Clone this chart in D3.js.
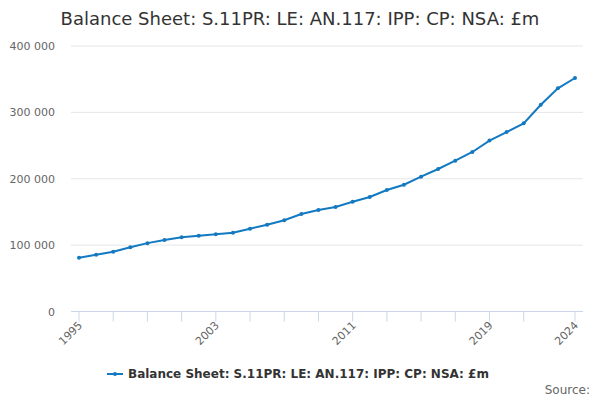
<!DOCTYPE html>
<html>
<head>
<meta charset="utf-8">
<script src="https://cdn.jsdelivr.net/npm/d3@7"></script>
<style>
  body { margin: 0; background: #fff; }
  text { font-family: "DejaVu Sans", sans-serif; }
</style>
</head>
<body>
<div id="chart"></div>
<script>
const title = "Balance Sheet: S.11PR: LE: AN.117: IPP: CP: NSA: £m";
const years = [1995, 1996, 1997, 1998, 1999, 2000, 2001, 2002, 2003, 2004,
  2005, 2006, 2007, 2008, 2009, 2010, 2011, 2012, 2013, 2014,
  2015, 2016, 2017, 2018, 2019, 2020, 2021, 2022, 2023, 2024];
const values = [81000, 85500, 90000, 96700, 103000, 107700, 111800, 114300, 116500, 118700,
  124700, 130800, 137400, 146900, 152900, 157400, 165400, 172500, 183000, 191000,
  203100, 214700, 227200, 240300, 257500, 270400, 283500, 311500, 336300, 351800];
const yTicks = [0, 100000, 200000, 300000, 400000];
const xTicks = [1995, 1997, 1999, 2001, 2003, 2005, 2007, 2009, 2011, 2013, 2015, 2017, 2019, 2021, 2024];
const xLabels = [1995, 2003, 2011, 2019, 2024];

const width = 600;
const height = 400;
const lineColor = "#1379c1";

const svg = d3.select("#chart")
  .append("svg")
  .attr("width", width)
  .attr("height", height);

//Scales
const x = d3.scaleLinear().domain([1995, 2024]).range([79, 575]);
const y = d3.scaleLinear().domain([0, 400000]).range([311.5, 46]);

const fmt = (v) => d3.format(",")(v).replace(/,/g, " ");

//Title
svg.append("text")
  .attr("x", 300)
  .attr("y", 25)
  .attr("text-anchor", "middle")
  .attr("font-size", 18)
  .attr("fill", "#333")
  .text(title);

//Gridlines
svg.selectAll(".grid")
  .data(yTicks.filter((d) => d > 0))
  .enter()
  .append("line")
  .attr("x1", 71)
  .attr("x2", 583)
  .attr("y1", (d) => y(d))
  .attr("y2", (d) => y(d))
  .attr("stroke", "#e6e6e6");

//Y labels
svg.selectAll(".ylab")
  .data(yTicks)
  .enter()
  .append("text")
  .attr("x", 55)
  .attr("y", (d) => y(d) + 4)
  .attr("text-anchor", "end")
  .attr("font-size", 11)
  .attr("fill", "#666")
  .text(fmt);

//X axis
svg.append("line")
  .attr("x1", 71)
  .attr("x2", 583)
  .attr("y1", 311.5)
  .attr("y2", 311.5)
  .attr("stroke", "#ccd6eb");

svg.selectAll(".xtick")
  .data(xTicks)
  .enter()
  .append("line")
  .attr("x1", (d) => x(d))
  .attr("x2", (d) => x(d))
  .attr("y1", 311.5)
  .attr("y2", 321.5)
  .attr("stroke", "#ccd6eb");

svg.selectAll(".xlab")
  .data(xLabels)
  .enter()
  .append("text")
  .attr("transform", (d) => `translate(${x(d) + 4}, ${326}) rotate(-45)`)
  .attr("text-anchor", "end")
  .attr("font-size", 11)
  .attr("fill", "#666")
  .text((d) => d);

//Line
const line = d3.line()
  .x((d, i) => x(years[i]))
  .y((d) => y(d));

svg.append("path")
  .datum(values)
  .attr("d", line)
  .attr("fill", "none")
  .attr("stroke", lineColor)
  .attr("stroke-width", 2);

svg.selectAll(".dot")
  .data(values)
  .enter()
  .append("circle")
  .attr("cx", (d, i) => x(years[i]))
  .attr("cy", (d) => y(d))
  .attr("r", 2)
  .attr("fill", lineColor);

//Legend
const legend = svg.append("g").attr("transform", "translate(107, 374)");
legend.append("line")
  .attr("x1", 0)
  .attr("x2", 16)
  .attr("stroke", lineColor)
  .attr("stroke-width", 2);
legend.append("circle")
  .attr("cx", 8)
  .attr("r", 2)
  .attr("fill", lineColor);
legend.append("text")
  .attr("x", 21)
  .attr("y", 4)
  .attr("font-size", 12)
  .attr("font-weight", "bold")
  .attr("fill", "#333")
  .text(title);

//Source
svg.append("text")
  .attr("x", 590)
  .attr("y", 394)
  .attr("text-anchor", "end")
  .attr("font-size", 12)
  .attr("fill", "#666")
  .text("Source:");
</script>
</body>
</html>
